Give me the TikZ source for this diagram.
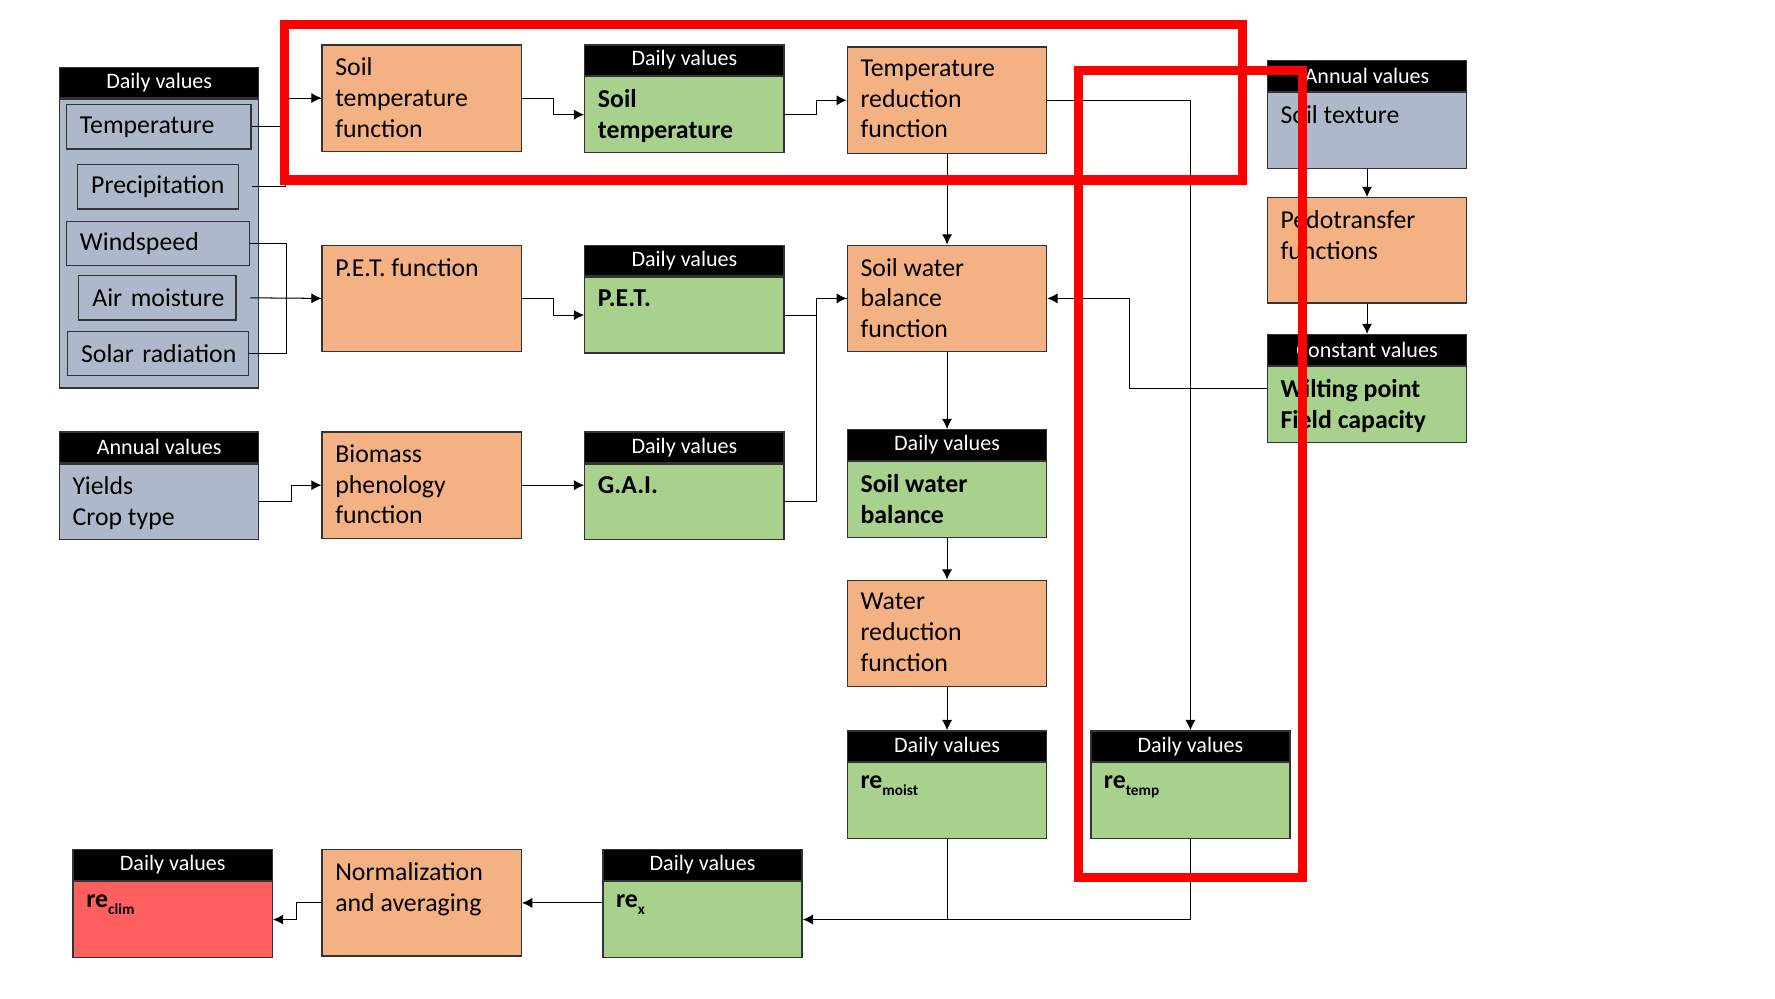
\documentclass[tikz,border=0pt]{standalone}
\usepackage{fontspec}
\setmainfont{Carlito}
\usetikzlibrary{arrows.meta,calc}
\definecolor{fnfill}{HTML}{F4B183}
\definecolor{datafill}{HTML}{A9D18E}
\definecolor{infill}{HTML}{ADB9CA}
\definecolor{outfill}{HTML}{FF5F5F}
\definecolor{edge}{HTML}{333333}
\newcommand\bodysize{\fontsize{22.8}{27}\selectfont}
\newcommand\hdrsize{\fontsize{19.5}{23}\selectfont}
\newcommand\lowidx[1]{\raisebox{-6pt}{\fontsize{13.5}{15}\selectfont #1}}
\begin{document}
\begin{tikzpicture}[x=1pt,y=1pt,yscale=-1,
  blk/.style={draw=edge, line width=1.2pt, inner sep=0pt, anchor=north west, minimum width=176pt},
  fnbox/.style={blk, fill=fnfill, minimum height=94pt},
  hdr/.style={blk, fill=black, text=white, minimum height=27pt, font=\hdrsize},
  body/.style={blk, minimum height=67pt},
  txt/.style={anchor=north west, inner sep=0pt, align=left, font=\bodysize},
  btxt/.style={txt, font=\bodysize\bfseries},
  item/.style={draw=edge, line width=1.2pt, fill=infill, anchor=north west, inner xsep=12pt, inner ysep=0pt,
    minimum height=39pt, align=left, font=\bodysize},
  conn/.style={line width=0.9pt},
  arr/.style={conn, -{Latex[length=9pt,width=9pt]}},
  redframe/.style={draw=red, line width=8pt}]
\useasboundingbox (0,0) rectangle (1568,882);

% ---- climate inputs
\node[hdr] (clim-h) at (52,59) {Daily values};
\node[blk, fill=infill, minimum height=255pt] (clim) at (clim-h.south west) {};
\node[item, text width=139pt] (temp) at (58,92) {\mbox{Temperature}};
\node[item, text width=118pt] (prec) at (68,145) {\mbox{Precipitation}};
\node[item, text width=138pt] (wind) at (58,195) {\mbox{Windspeed}};
\node[item, text width=115pt] (air) at (69,243) {\mbox{Air moisture}};
\node[item, text width=136pt] (solar) at (59,292) {\mbox{Solar radiation}};

% ---- crop inputs
\node[hdr] (crop-h) at (52,381) {Annual values};
\node[body, fill=infill] (crop) at (crop-h.south west) {};
\node[txt] (crop-t) at ($(crop.north west)+(12,12)$) {Yields\\Crop type};

% ---- first column of functions
\node[fnbox] (stf) at (284,39) {};
\node[txt] (stf-t) at ($(stf.north west)+(12,12)$) {Soil\\temperature\\function};
\node[fnbox] (petf) at (284,216) {};
\node[txt] (petf-t) at ($(petf.north west)+(12,12)$) {P.E.T. function};
\node[fnbox] (bio) at (284,381) {};
\node[txt] (bio-t) at ($(bio.north west)+(12,12)$) {Biomass\\phenology\\function};

% ---- daily intermediate values
\node[hdr] (std-h) at (516,39) {Daily values};
\node[body, fill=datafill] (std) at (std-h.south west) {};
\node[btxt] (std-t) at ($(std.north west)+(12,12)$) {Soil\\temperature};
\node[hdr] (pet-h) at (516,216) {Daily values};
\node[body, fill=datafill] (pet) at (pet-h.south west) {};
\node[btxt] (pet-t) at ($(pet.north west)+(12,12)$) {P.E.T.};
\node[hdr] (gai-h) at (516,381) {Daily values};
\node[body, fill=datafill] (gai) at (gai-h.south west) {};
\node[btxt] (gai-t) at ($(gai.north west)+(12,12)$) {G.A.I.};

% ---- reduction chain
\node[fnbox] (trf) at (748,41) {};
\node[txt] (trf-t) at ($(trf.north west)+(12,12)$) {Temperature\\reduction\\function};
\node[fnbox] (swbf) at (748,216) {};
\node[txt] (swbf-t) at ($(swbf.north west)+(12,12)$) {Soil water\\balance\\function};
\node[hdr] (swb-h) at (748,379) {Daily values};
\node[body, fill=datafill] (swb) at (swb-h.south west) {};
\node[btxt] (swb-t) at ($(swb.north west)+(12,12)$) {Soil water\\balance};
\node[fnbox] (wrf) at (748,512) {};
\node[txt] (wrf-t) at ($(wrf.north west)+(12,12)$) {Water\\reduction\\function};
\node[hdr] (rem-h) at (748,645) {Daily values};
\node[body, fill=datafill] (rem) at (rem-h.south west) {};
\node[btxt] (rem-t) at ($(rem.north west)+(12,12)$) {re\lowidx{moist}};
\node[hdr] (ret-h) at (963,645) {Daily values};
\node[body, fill=datafill] (ret) at (ret-h.south west) {};
\node[btxt] (ret-t) at ($(ret.north west)+(12,12)$) {re\lowidx{temp}};

% ---- soil properties
\node[hdr] (tex-h) at (1119,53) {Annual values};
\node[body, fill=infill] (tex) at (tex-h.south west) {};
\node[txt] (tex-t) at ($(tex.north west)+(12,12)$) {Soil texture};
\node[fnbox, minimum height=93pt] (ptf) at (1119,174) {};
\node[txt] (ptf-t) at ($(ptf.north west)+(12,12)$) {Pedotransfer\\functions};
\node[hdr] (cv-h) at (1119,295) {Constant values};
\node[body, fill=datafill] (cv) at (cv-h.south west) {};
\node[btxt] (cv-t) at ($(cv.north west)+(12,12)$) {Wilting point\\Field capacity};

% ---- output row
\node[hdr] (rex-h) at (532,750) {Daily values};
\node[body, fill=datafill] (rex) at (rex-h.south west) {};
\node[btxt] (rex-t) at ($(rex.north west)+(12,12)$) {re\lowidx{x}};
\node[fnbox] (norm) at (284,750) {};
\node[txt] (norm-t) at ($(norm.north west)+(12,12)$) {Normalization\\and averaging};
\node[hdr] (rcl-h) at (64,750) {Daily values};
\node[body, fill=outfill] (rcl) at (rcl-h.south west) {};
\node[btxt] (rcl-t) at ($(rcl.north west)+(12,12)$) {re\lowidx{clim}};

% ---- connectors
\draw[arr] (temp.east) -- ++(30,0) |- (stf.west);
\draw[conn] (prec.east -| temp.east) -- ++(30,0) |- (stf.west);
\draw[conn] (wind.east) -- ++(32,0) |- (solar.east);
\draw[arr] (air.east -| wind.east) -- (petf.west);
\draw[arr] (crop.east) -- ++(28,0) |- (bio.west);
\draw[arr] (stf.east) -- ++(28,0) |- (std.west);
\draw[arr] (petf.east) -- ++(28,0) |- (pet.west);
\draw[arr] (bio.east) -- (bio.east -| gai.west);
\draw[arr] (std.east) -- ++(28,0) |- (trf.west);
\draw[arr] (pet.east) -- ++(28,0) |- (swbf.west);
\draw[conn] (gai.east) -- ++(28,0) |- (swbf.west);
\draw[arr] (trf.south) -- (swbf.north);
\draw[arr] (trf.east) -| (ret-h.north);
\draw[arr] ($(cv-h.north west)!.5!(cv.south west)$) -- ++(-121,0) |- (swbf.east);
\draw[arr] (swbf.south) -- (swb-h.north);
\draw[arr] (swb.south) -- (wrf.north);
\draw[arr] (wrf.south) -- (rem-h.north);
\draw[arr] (tex.south) -- (ptf.north);
\draw[arr] (ptf.south) -- (cv-h.north);
\draw[arr] (ret.south) |- (rex.east);
\draw[conn] (rem.south) -- (rem.south |- rex.east);
\draw[arr] (norm.east -| rex.west) -- (norm.east);
\draw[arr] (norm.west) -- ++(-22,0) |- (rcl.east);

% ---- highlight frames
\draw[redframe] (251,22) rectangle (1098,159);
\draw[redframe] (953,62) rectangle (1151,775);
\end{tikzpicture}
\end{document}
